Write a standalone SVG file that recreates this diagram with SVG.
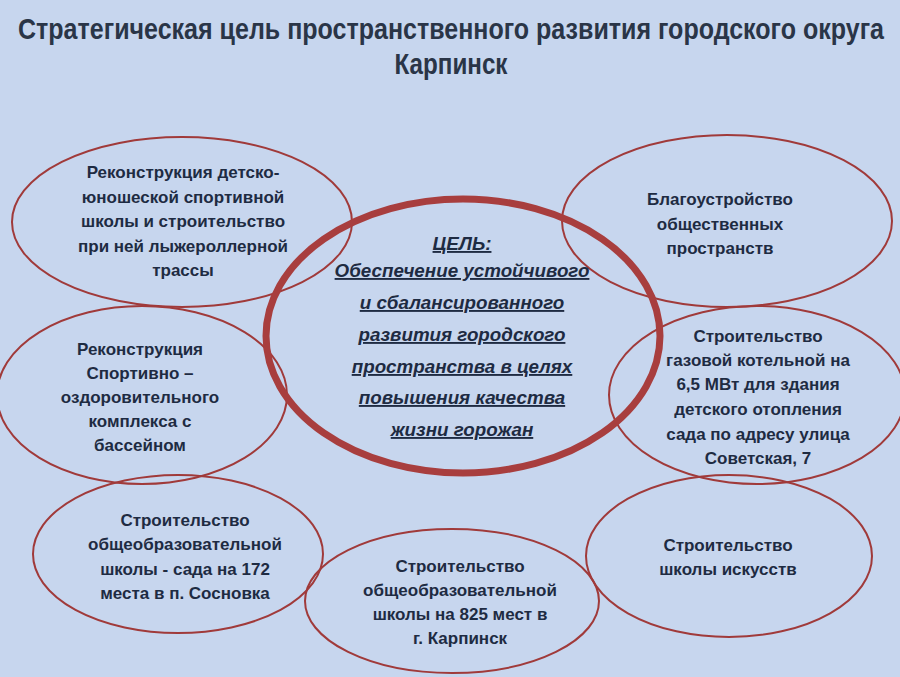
<svg xmlns="http://www.w3.org/2000/svg" width="900" height="677" viewBox="0 0 900 677">
<style>
.bg{fill:#c7d6ee}
.e{fill:none;stroke:#a03a3a;stroke-width:2}
.ec{fill:none;stroke:#a83e3e;stroke-width:7}
.t{font-family:"Liberation Sans",Arial,sans-serif;font-weight:bold;font-size:17px;fill:#1e2b42;text-anchor:middle}
.c{font-family:"Liberation Sans",Arial,sans-serif;font-weight:bold;font-style:italic;font-size:18.8px;fill:#1e2b42;text-anchor:middle;text-decoration:underline}
.h{font-family:"Liberation Sans",Arial,sans-serif;font-weight:bold;font-size:25px;fill:#2a3547;text-anchor:middle}
</style>
<rect class="bg" x="0" y="0" width="900" height="677"/>
<g id="title" transform="scale(1,1.16)">
<text class="h" x="451" y="33.6" textLength="866" lengthAdjust="spacingAndGlyphs">Стратегическая цель пространственного развития городского округа</text>
<text class="h" x="451" y="63.8" textLength="113" lengthAdjust="spacingAndGlyphs">Карпинск</text>
</g>
<g id="connectors"></g>
<g id="n1">
<ellipse class="e" cx="182" cy="222" rx="170" ry="85"/>
<text class="t"><tspan x="183" y="178">Реконструкция детско-</tspan><tspan x="183" y="203">юношеской спортивной</tspan><tspan x="183" y="227">школы и строительство</tspan><tspan x="183" y="252">при ней лыжероллерной</tspan><tspan x="183" y="276">трассы</tspan></text>
</g>
<g id="n2">
<ellipse class="e" cx="727" cy="221" rx="165" ry="86"/>
<text class="t"><tspan x="720" y="205">Благоустройство</tspan><tspan x="720" y="230">общественных</tspan><tspan x="720" y="254">пространств</tspan></text>
</g>
<g id="n3">
<ellipse class="e" cx="142" cy="395" rx="145" ry="89"/>
<text class="t"><tspan x="140" y="355">Реконструкция</tspan><tspan x="140" y="379">Спортивно –</tspan><tspan x="140" y="403">оздоровительного</tspan><tspan x="140" y="427">комплекса с</tspan><tspan x="140" y="451">бассейном</tspan></text>
</g>
<g id="n4">
<ellipse class="e" cx="757" cy="395" rx="148" ry="89"/>
<text class="t"><tspan x="758" y="342">Строительство</tspan><tspan x="758" y="366">газовой котельной на</tspan><tspan x="758" y="390">6,5 МВт для здания</tspan><tspan x="758" y="415">детского отопления</tspan><tspan x="758" y="440">сада по адресу улица</tspan><tspan x="758" y="464">Советская, 7</tspan></text>
</g>
<g id="n5">
<ellipse class="e" cx="178" cy="554" rx="145" ry="79"/>
<text class="t"><tspan x="185" y="526">Строительство</tspan><tspan x="185" y="550">общеобразовательной</tspan><tspan x="185" y="575">школы - сада на 172</tspan><tspan x="185" y="599">места в п. Сосновка</tspan></text>
</g>
<g id="n6">
<ellipse class="e" cx="452" cy="601" rx="147" ry="72"/>
<text class="t"><tspan x="460" y="572">Строительство</tspan><tspan x="460" y="596">общеобразовательной</tspan><tspan x="460" y="620">школы на 825 мест в</tspan><tspan x="460" y="644">г. Карпинск</tspan></text>
</g>
<g id="n7">
<ellipse class="e" cx="729" cy="556" rx="143" ry="81"/>
<text class="t"><tspan x="728" y="551">Строительство</tspan><tspan x="728" y="575">школы искусств</tspan></text>
</g>
<g id="center">
<ellipse class="ec" cx="463" cy="336" rx="197" ry="137"/>
<text class="c"><tspan x="462" y="250">ЦЕЛЬ:</tspan><tspan x="462" y="277">Обеспечение устойчивого</tspan><tspan x="462" y="309">и сбалансированного</tspan><tspan x="462" y="341">развития городского</tspan><tspan x="462" y="373">пространства в целях</tspan><tspan x="462" y="404">повышения качества</tspan><tspan x="462" y="436">жизни горожан</tspan></text>
</g>
</svg>
